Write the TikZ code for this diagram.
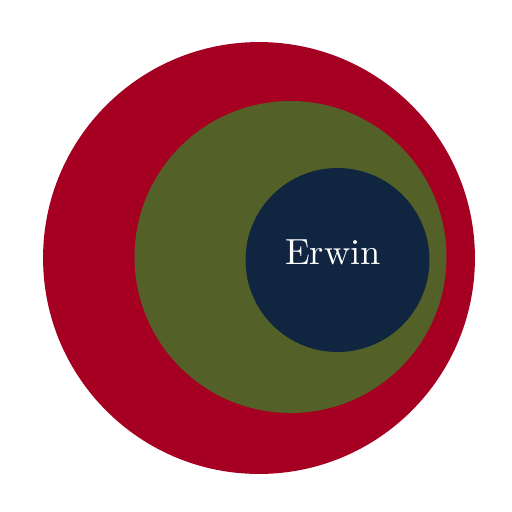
\documentclass[tikz,border=0pt]{standalone}
\usepackage{xcolor}
\usepackage{graphicx}
\usepackage{tikz}
\usetikzlibrary{positioning}

\definecolor{outerred}{HTML}{A50021}
\definecolor{midgreen}{HTML}{536128}
\definecolor{innerblue}{HTML}{0F2540}

\begin{document}
\begin{tikzpicture}[
  x=0.02cm, y=-0.02cm,
  ring/.style={
    circle, inner sep=0pt, draw=none
  },
  label/.style={
    text=white, font=\normalsize, inner sep=0pt
  }
]

\useasboundingbox (0,0) rectangle (512,512);

\node[ring, fill=outerred, minimum size=8.64cm] (outer) at (259, 258) {};
\node[ring, fill=midgreen, minimum size=6.24cm] (middle) at (290.5, 257) {};
\node[ring, fill=innerblue, minimum size=3.68cm] (inner) at (337.5, 260) {};

\node[label] (name) at (333, 252) {\scalebox{2.07}{Erwin}};

\end{tikzpicture}
\end{document}
